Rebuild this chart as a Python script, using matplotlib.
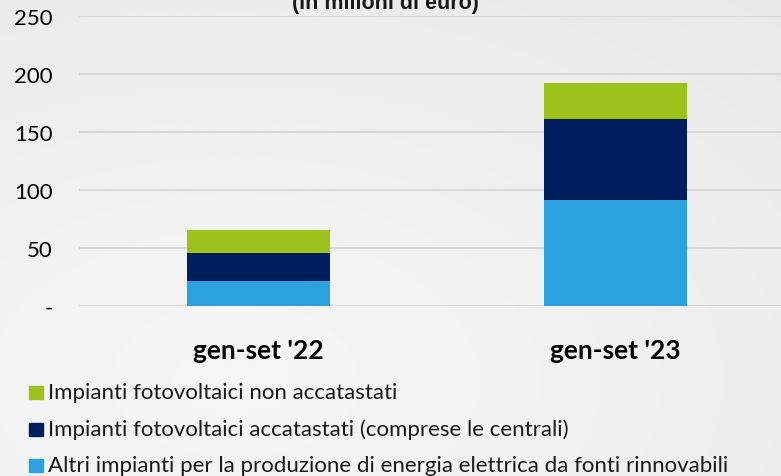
import numpy as np
import matplotlib.pyplot as plt

# dati (milioni di euro)
categories = ["gen-set '22", "gen-set '23"]
altri = [21, 91.5]
accatastati = [24.5, 70]
non_accatastati = [20, 30.5]
series_labels = ['Impianti fotovoltaici non accatastati',
                 'Impianti fotovoltaici accatastati (comprese le centrali)',
                 'Altri impianti per la produzione di energia elettrica da fonti rinnovabili']
yticks = [0, 50, 100, 150, 200, 250]
ytick_labels = ['-', '50', '100', '150', '200', '250']

c_green = '#9DC21B'
c_navy = '#001E5E'
c_light = '#2CA1DF'

plt.rcParams['font.family'] = ['Lato', 'DejaVu Sans']

fig = plt.figure(figsize=(7.81, 4.77), dpi=100)

# sfondo grigio sfumato
bg = fig.add_axes([0, 0, 1, 1], zorder=-10)
yy, xx = np.mgrid[0:1:200j, 0:1:300j]
grad = 0.965 - 0.05 * np.sqrt((xx - 0.3) ** 2 + (yy - 0.8) ** 2)
bg.imshow(grad, cmap='gray', vmin=0, vmax=1, aspect='auto', extent=[0, 1, 0, 1])
bg.axis('off')

ax = fig.add_axes([79 / 781, (477 - 306.7) / 477, 1 - 79 / 781, 289.7 / 477])
ax.patch.set_alpha(0)
x = np.arange(len(categories))
w = 0.40
ax.bar(x, altri, w, color=c_light, zorder=3)
ax.bar(x, accatastati, w, bottom=altri, color=c_navy, zorder=3)
bottom2 = np.array(altri) + np.array(accatastati)
ax.bar(x, non_accatastati, w, bottom=bottom2, color=c_green, zorder=3)

ax.set_ylim(0, 250)
ax.set_xlim(-0.503, 1.4636)
ax.set_yticks(yticks)
ax.set_yticklabels(ytick_labels, fontsize=16)
ax.yaxis.grid(True, color='#d8d8d8', linewidth=1.5, zorder=0)
ax.tick_params(axis='y', length=0, pad=19)
ax.set_xticks(x)
ax.set_xticklabels(categories, fontsize=19, fontweight='bold')
ax.tick_params(axis='x', length=0, pad=23)
for s in ax.spines.values():
    s.set_visible(False)

fig.text(385 / 781, 1.0 - 9 / 477, '(in milioni di euro)', ha='center', va='baseline',
         fontsize=15.5, fontweight='bold', family='Liberation Sans', color='#1a1a1a')

colors = [c_green, c_navy, c_light]
ys = [393, 430, 466]
for lab, col, yp in zip(series_labels, colors, ys):
    fig.patches.append(plt.Rectangle((29 / 781, 1 - (yp + 7) / 477), 14 / 781, 13 / 477,
                                     transform=fig.transFigure, color=col, figure=fig))
    fig.text(48 / 781, 1 - yp / 477, lab, ha='left', va='center', fontsize=16, color='#1a1a1a')

fig.savefig('out.png', dpi=100)
